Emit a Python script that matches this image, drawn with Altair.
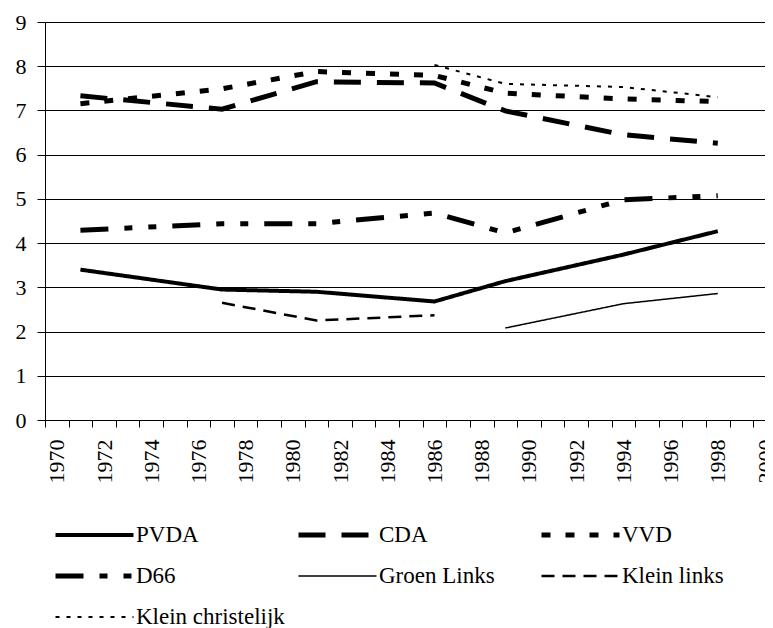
import altair as alt
import pandas as pd

parties = ["PVDA", "CDA", "VVD", "D66", "Groen Links", "Klein links", "Klein christelijk"]

years_main = [1971, 1977, 1981, 1986, 1989, 1994, 1998]
pvda = [3.40, 2.95, 2.90, 2.68, 3.14, 3.74, 4.27]
cda = [7.33, 7.03, 7.65, 7.62, 6.99, 6.45, 6.26]
vvd = [7.15, 7.49, 7.88, 7.79, 7.39, 7.26, 7.20]
d66 = [4.29, 4.44, 4.44, 4.68, 4.23, 4.98, 5.07]

gl_years = [1989, 1994, 1998]
groen_links = [2.08, 2.63, 2.86]

kl_years = [1977, 1981, 1986]
klein_links = [2.65, 2.25, 2.37]

kc_years = [1986, 1989, 1994, 1998]
klein_christelijk = [8.03, 7.60, 7.53, 7.30]

year_ticks = list(range(1970, 2001))
value_ticks = list(range(0, 10))

series = [
    ("PVDA", years_main, pvda),
    ("CDA", years_main, cda),
    ("VVD", years_main, vvd),
    ("D66", years_main, d66),
    ("Groen Links", gl_years, groen_links),
    ("Klein links", kl_years, klein_links),
    ("Klein christelijk", kc_years, klein_christelijk),
]
rows = []
for name, ys, vs in series:
    for yr, v in zip(ys, vs):
        rows.append({"Partij": name, "Jaar": yr, "Waarde": v})
df = pd.DataFrame(rows)

dash_range = [[1, 0], [27, 16], [9, 15], [28, 16, 8, 16, 8, 16], [1, 0], [13, 8], [4, 7]]
width_range = [4, 5, 5, 5, 1.5, 2.5, 2]
color_range = ["#000000"] * 7

W = 720
H = 398
half_band = W / 30.5 / 2

FONT = "Liberation Serif"

leg = alt.Legend(
    title=None, orient="none", legendX=8, legendY=499, direction="horizontal",
    columns=3, symbolType="stroke", symbolSize=6084, labelFont=FONT,
    labelFontSize=23, labelColor="black", labelOffset=0, columnPadding=11,
    rowPadding=13, clipHeight=28, gridAlign="all", symbolOffset=0, padding=0, labelLimit=0,
)

chart = alt.Chart(df).mark_line(strokeCap="butt", strokeJoin="miter").encode(
    x=alt.X(
        "Jaar:Q",
        scale=alt.Scale(domain=[1969.5, 2000], nice=False, zero=False),
        axis=alt.Axis(
            values=year_ticks, format="d",
            labelExpr="datum.value % 2 == 0 ? datum.label : ''",
            title=None, grid=False, domainColor="black", tickColor="black",
            tickSize=7, tickOffset=-half_band, labelOffset=half_band,
            labelAngle=270, labelPadding=12, labelFont=FONT, labelFontSize=22,
            labelColor="black", labelOverlap=False, labelFlush=False,
        ),
    ),
    y=alt.Y(
        "Waarde:Q",
        scale=alt.Scale(domain=[0, 9], nice=False),
        axis=alt.Axis(
            values=value_ticks, title=None, grid=True, gridColor="black",
            gridWidth=1, domainColor="black", tickColor="black", tickSize=8,
            labelPadding=11, labelFont=FONT, labelFontSize=22, labelColor="black",
            labelOverlap=False,
        ),
    ),
    color=alt.Color("Partij:N", scale=alt.Scale(domain=parties, range=color_range), legend=leg),
    strokeDash=alt.StrokeDash("Partij:N", scale=alt.Scale(domain=parties, range=dash_range), legend=leg),
    strokeWidth=alt.StrokeWidth(
        "Partij:N", scale=alt.Scale(type="ordinal", domain=parties, range=width_range), legend=leg
    ),
).properties(
    width=W, height=H, autosize="none",
    padding={"left": 37, "top": 14, "right": 0, "bottom": 208},
).configure_view(strokeWidth=0)

chart.save("out.html", embed_options={"renderer": "svg", "actions": False})
